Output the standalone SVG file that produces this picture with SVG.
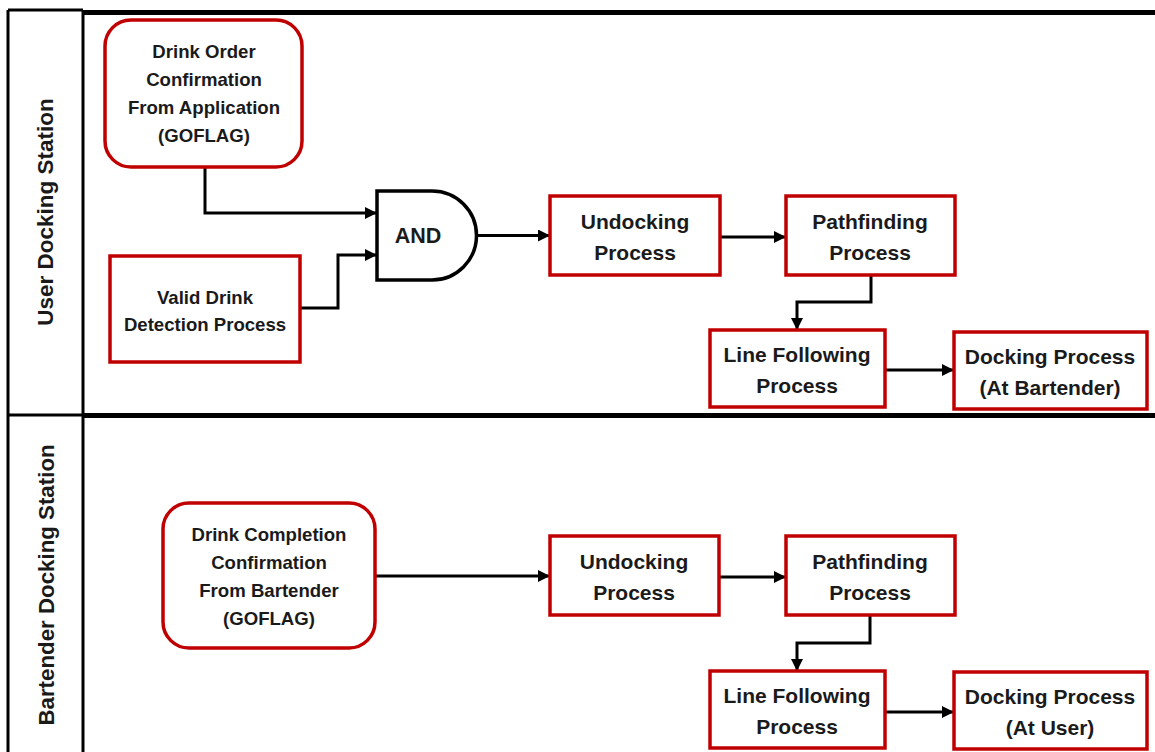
<svg xmlns="http://www.w3.org/2000/svg" width="1155" height="752" viewBox="0 0 1155 752">
<style>
.box{fill:#fff;stroke:#c00000;stroke-width:3.5}
.lane{fill:none;stroke:#000;stroke-width:3}
.thick{fill:none;stroke:#000;stroke-width:5}
.t{font-family:"Liberation Sans",Arial,sans-serif;font-weight:bold;fill:#1a1a1a;text-anchor:middle}
.s{font-size:18.6px}
.m{font-size:21px}
.c{fill:none;stroke:#000;stroke-width:3;marker-end:url(#ah)}
</style>
<defs>
<marker id="ah" viewBox="0 0 10 10" refX="10" refY="5" markerWidth="4" markerHeight="4" markerUnits="strokeWidth" orient="auto">
<path d="M0,0 L10,5 L0,10 z" fill="#000"/>
</marker>
</defs>
<rect width="1155" height="752" fill="#fff"/>
<g id="lanes">
<path class="lane" d="M8,10 H83 M8,10 V752 M83,10 V752 M8,415 H83"/>
<path class="thick" d="M83,12.5 H1155 M83,415.5 H1155"/>
<text class="t" font-size="22.5" transform="translate(53,212) rotate(-90)">User Docking Station</text>
<text class="t" font-size="22.3" transform="translate(54,585) rotate(-90)">Bartender Docking Station</text>
</g>
<g id="connectors">
<path class="c" d="M205,167 V213 H377"/>
<path class="c" d="M300,308 H338 V255 H377"/>
<path class="c" d="M477,235.5 H550"/>
<path class="c" d="M720,237 H786"/>
<path class="c" d="M871,275 V302 H797 V330"/>
<path class="c" d="M885,370 H954"/>
<path class="c" d="M375,576 H550"/>
<path class="c" d="M719,577 H786"/>
<path class="c" d="M870,615 V643 H797 V671"/>
<path class="c" d="M885,712 H954"/>
</g>
<g id="n_order">
<rect class="box" x="105" y="20" width="197" height="147" rx="26"/>
<text class="t s" x="204" y="58">Drink Order</text>
<text class="t s" x="204" y="86">Confirmation</text>
<text class="t s" x="204" y="114">From Application</text>
<text class="t s" x="204" y="142">(GOFLAG)</text>
</g>
<g id="n_valid">
<rect class="box" x="110" y="256" width="190" height="106"/>
<text class="t s" x="205" y="304">Valid Drink</text>
<text class="t s" x="205" y="331">Detection Process</text>
</g>
<g id="n_and">
<path d="M377,191 H432 A44.5,44.5 0 0 1 432,280 H377 Z" fill="#fff" stroke="#000" stroke-width="3.5"/>
<text class="t" font-size="21.5" x="418" y="243">AND</text>
</g>
<g id="n_undock1">
<rect class="box" x="550" y="196" width="170" height="79"/>
<text class="t m" x="635" y="229">Undocking</text>
<text class="t m" x="635" y="260">Process</text>
</g>
<g id="n_path1">
<rect class="box" x="786" y="196" width="169" height="79"/>
<text class="t m" x="870" y="229">Pathfinding</text>
<text class="t m" x="870" y="260">Process</text>
</g>
<g id="n_line1">
<rect class="box" x="710" y="330" width="175" height="77"/>
<text class="t m" x="797" y="362">Line Following</text>
<text class="t m" x="797" y="393">Process</text>
</g>
<g id="n_dock1">
<rect class="box" x="954" y="332" width="193" height="77"/>
<text class="t m" x="1050" y="364">Docking Process</text>
<text class="t m" x="1050" y="395">(At Bartender)</text>
</g>
<g id="n_complete">
<rect class="box" x="163" y="503" width="212" height="145" rx="26"/>
<text class="t s" x="269" y="541">Drink Completion</text>
<text class="t s" x="269" y="569">Confirmation</text>
<text class="t s" x="269" y="597">From Bartender</text>
<text class="t s" x="269" y="625">(GOFLAG)</text>
</g>
<g id="n_undock2">
<rect class="box" x="550" y="536" width="169" height="79"/>
<text class="t m" x="634" y="569">Undocking</text>
<text class="t m" x="634" y="600">Process</text>
</g>
<g id="n_path2">
<rect class="box" x="786" y="536" width="169" height="79"/>
<text class="t m" x="870" y="569">Pathfinding</text>
<text class="t m" x="870" y="600">Process</text>
</g>
<g id="n_line2">
<rect class="box" x="710" y="671" width="175" height="77"/>
<text class="t m" x="797" y="703">Line Following</text>
<text class="t m" x="797" y="734">Process</text>
</g>
<g id="n_dock2">
<rect class="box" x="954" y="672" width="193" height="77"/>
<text class="t m" x="1050" y="704">Docking Process</text>
<text class="t m" x="1050" y="735">(At User)</text>
</g>
</svg>
